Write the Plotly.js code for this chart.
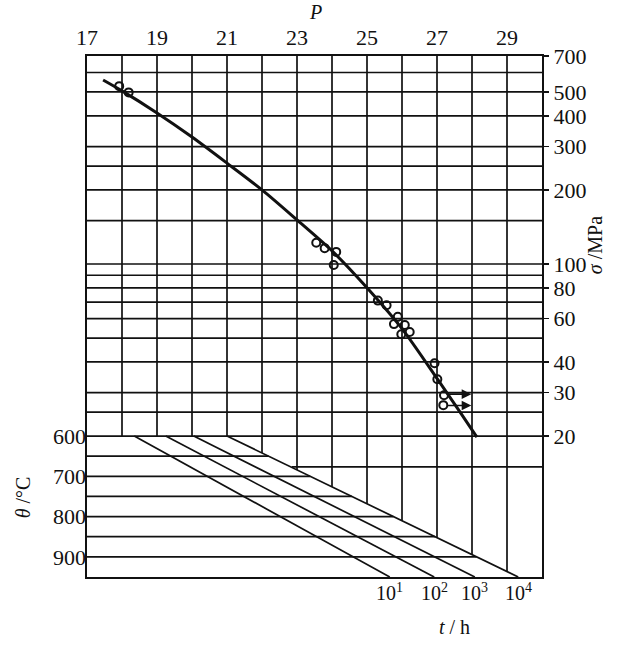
<!DOCTYPE html>
<html>
<head>
<meta charset="utf-8">
<script src="https://cdn.plot.ly/plotly-3.0.1.min.js"></script>
<style>html,body{margin:0;padding:0;background:#fff;}#chart{width:618px;height:645px;}</style>
</head>
<body>
<div id="chart"></div>
<script>
// ---- data ----
var pTickVals = [17, 19, 21, 23, 25, 27, 29];
var pGrid = [18, 19, 20, 21, 22, 23, 24, 25, 26, 27, 28, 29];
var sigmaTickVals = [700, 500, 400, 300, 200, 100, 80, 60, 40, 30, 20];
var sigmaGrid = [600, 500, 400, 300, 250, 200, 150, 100, 90, 80, 70, 60, 50, 40, 30, 25, 20];
var sigma15 = 15;
var sigma15StartP = 22.85;
var thetaTickVals = [600, 700, 800, 900];
var thetaGrid = [650, 700, 750, 800, 850, 900];
var timeLabels = ['10<sup>1</sup>', '10<sup>2</sup>', '10<sup>3</sup>', '10<sup>4</sup>'];
var diagP600 = [18.35, 19.25, 20.05, 21.0];
var diagP950 = [25.65, 26.92, 28.08, 29.32];
var curveP = [17.46, 18.0, 19.0, 20.0, 21.0, 22.0, 23.0, 24.03, 25.0, 26.03, 27.03, 27.66, 28.14];
var curveSigma = [559, 505, 411, 328, 257, 200, 151, 112, 80, 53.9, 33.8, 25.0, 19.8];
var ptP = [17.92, 18.19, 23.55, 23.79, 24.12, 24.05, 25.31, 25.56, 25.88, 25.77, 26.08, 25.98, 26.22, 26.93, 27.01, 27.2, 27.18];
var ptSigma = [528, 498, 122, 116, 112, 99, 71, 68, 61, 57, 56.5, 51.8, 52.9, 39.5, 34, 29.3, 26.7];
var arrowFromP = [27.25, 27.25];
var arrowToP = [27.98, 27.98];
var arrowSigma = [29.6, 26.6];

// ---- build ----
var P_MIN = 17, P_MAX = 30, TH_TOP = 600, TH_BOT = 950, SIG_TOP = 700, SIG_BOT = 20;
var k = diagP600.length - 1;
function thetaOnLast(p) { return TH_TOP + (p - diagP600[k]) / (diagP950[k] - diagP600[k]) * (TH_BOT - TH_TOP); }
function pOnLast(th) { return diagP600[k] + (th - TH_TOP) / (TH_BOT - TH_TOP) * (diagP950[k] - diagP600[k]); }

var black = '#111';
var gx = [], gy = [];
sigmaGrid.forEach(function (s) { gx.push(P_MIN, P_MAX, null); gy.push(s, s, null); });
gx.push(sigma15StartP, P_MAX, null); gy.push(sigma15, sigma15, null);
pGrid.forEach(function (p) { gx.push(p, p, null); gy.push(SIG_TOP, SIG_BOT, null); });

var lx = [], ly = [];
pGrid.forEach(function (p) {
  if (p > diagP600[k]) { lx.push(p, p, null); ly.push(TH_TOP, thetaOnLast(p), null); }
});
thetaGrid.forEach(function (th) { lx.push(P_MIN, pOnLast(th), null); ly.push(th, th, null); });
for (var i = 0; i < diagP600.length; i++) { lx.push(diagP600[i], diagP950[i], null); ly.push(TH_TOP, TH_BOT, null); }

var traces = [
  {x: gx, y: gy, mode: 'lines', line: {color: black, width: 1.7}, hoverinfo: 'skip', showlegend: false, yaxis: 'y'},
  {x: lx, y: ly, mode: 'lines', line: {color: black, width: 1.7}, hoverinfo: 'skip', showlegend: false, yaxis: 'y2'},
  {x: curveP, y: curveSigma, mode: 'lines', line: {color: black, width: 3, shape: 'spline', smoothing: 0.8}, showlegend: false, yaxis: 'y'},
  {x: ptP, y: ptSigma, mode: 'markers', marker: {symbol: 'circle-open', size: 8, color: black, line: {width: 2, color: black}}, showlegend: false, yaxis: 'y'}
];

var fontFam = '"Liberation Serif", "Times New Roman", serif';
var annotations = [
  {text: '<i>P</i>', xref: 'paper', yref: 'paper', x: 0.503, y: 1.0835, xanchor: 'center', yanchor: 'middle', showarrow: false, font: {size: 20}},
  {text: '<i>σ</i> /MPa', xref: 'paper', yref: 'paper', x: 1.1165, y: 0.637, xanchor: 'center', yanchor: 'middle', textangle: -90, showarrow: false, font: {size: 20}},
  {text: '<i>θ</i> /°C', xref: 'paper', yref: 'paper', x: -0.14, y: 0.1535, xanchor: 'center', yanchor: 'middle', textangle: -90, showarrow: false, font: {size: 20}},
  {text: '<i>t</i> / h', xref: 'paper', yref: 'paper', x: 0.8066, y: -0.096, xanchor: 'center', yanchor: 'middle', showarrow: false, font: {size: 20}}
];
for (var j = 0; j < timeLabels.length; j++) {
  annotations.push({text: timeLabels[j], xref: 'x', yref: 'paper', x: diagP950[j], y: 0, xanchor: 'center', yanchor: 'top', yshift: -1, showarrow: false, font: {size: 20}});
}
for (var a = 0; a < arrowSigma.length; a++) {
  annotations.push({x: arrowToP[a], y: Math.log10(arrowSigma[a]), ax: arrowFromP[a], ay: Math.log10(arrowSigma[a]),
    xref: 'x', yref: 'y', axref: 'x', ayref: 'y', showarrow: true, arrowhead: 2, arrowsize: 1.2, arrowwidth: 1.6, arrowcolor: black, text: ''});
}

var layout = {
  width: 618, height: 645,
  margin: {l: 87, r: 76, t: 56, b: 68, pad: 0},
  paper_bgcolor: '#fff', plot_bgcolor: '#fff',
  font: {family: fontFam, color: black, size: 22},
  showlegend: false,
  xaxis: {range: [P_MIN, P_MAX], side: 'top', tickmode: 'array', tickvals: pTickVals, ticktext: pTickVals.map(String),
    ticks: '', showgrid: false, zeroline: false, showline: true, mirror: true, linewidth: 2, linecolor: black,
    tickfont: {size: 22}, fixedrange: true},
  yaxis: {type: 'log', range: [Math.log10(5.35), Math.log10(700)], side: 'right', tickmode: 'array',
    tickvals: sigmaTickVals, ticktext: sigmaTickVals.map(String), ticks: 'outside', ticklen: 5, tickwidth: 1.5, tickcolor: black,
    showgrid: false, zeroline: false, showline: true, mirror: true, linewidth: 2, linecolor: black, tickfont: {size: 22}, fixedrange: true},
  yaxis2: {overlaying: 'y', side: 'left', range: [950, -343.3], tickmode: 'array', tickvals: thetaTickVals,
    ticktext: thetaTickVals.map(String), ticks: '', showgrid: false, zeroline: false, showline: false, tickfont: {size: 22}, fixedrange: true},
  annotations: annotations
};

Plotly.newPlot('chart', traces, layout, {displayModeBar: false, staticPlot: true});
</script>
</body>
</html>
